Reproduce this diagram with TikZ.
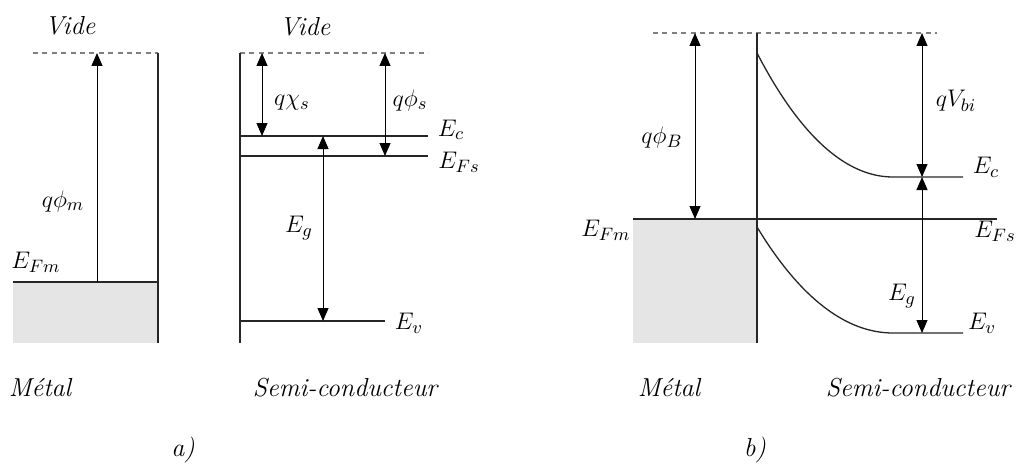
\documentclass[tikz,border=0pt]{standalone}
\usetikzlibrary{arrows.meta}
\begin{document}
\begin{tikzpicture}[x=0.5pt,y=-0.5pt,
  level/.style={line width=1pt, black!85},
  band/.style={line width=0.65pt, black!85},
  vac/.style={gray, line width=0.75pt, dash pattern=on 2.5pt off 2.2pt},
  darrow/.style={line width=0.5pt, {Triangle[length=6.5pt,width=5.5pt]}-{Triangle[length=6.5pt,width=5.5pt]}},
  uarrow/.style={line width=0.5pt, -{Triangle[length=6.5pt,width=5.5pt]}},
  lbl/.style={font=\fontsize{13}{15}\selectfont, inner sep=0pt},
  captxt/.style={font=\fontsize{13}{15}\selectfont\itshape, inner sep=0pt},
  metalfill/.style={fill=black!10}]
\useasboundingbox (0,0) rectangle (1016,465);

% ---------- panel a) : metal ----------
\fill[metalfill] (13,282) rectangle (158,343);
\coordinate (amV0) at (33,53);
\coordinate (amV1) at (158,53);
\coordinate (amB) at (158,343);
\coordinate (amF0) at (13,282);
\coordinate (amF1) at (158,282);
\coordinate (amA0) at (97,282);
\coordinate (amA1) at (97,53);
\draw[vac] (amV0) -- (amV1);
\draw[level] (amV1) -- (amB);
\draw[level] (amF0) -- (amF1);
\draw[uarrow] (amA0) -- (amA1);
\node[lbl] (vide1) at (70,26) {\itshape Vide};
\node[lbl] (qphim) at (63,201) {$q\phi_m$};
\node[lbl] (efm1) at (36,262) {$E_{Fm}$};

% ---------- panel a) : semiconductor ----------
\coordinate (asV0) at (240,53);
\coordinate (asV1) at (428,53);
\coordinate (asB) at (240,343);
\coordinate (asC0) at (240,136);
\coordinate (asC1) at (428,136);
\coordinate (asF0) at (240,156);
\coordinate (asF1) at (428,156);
\coordinate (asE0) at (240,321);
\coordinate (asE1) at (385,321);
\draw[vac] (asV0) -- (asV1);
\draw[level] (asV0) -- (asB);
\draw[level] (asC0) -- (asC1);
\draw[level] (asF0) -- (asF1);
\draw[level] (asE0) -- (asE1);
\coordinate (chiT) at (262,53);  \coordinate (chiB) at (262,136);
\coordinate (phT) at (385,53);   \coordinate (phB) at (385,156);
\coordinate (egT) at (323,136);  \coordinate (egB) at (323,321);
\draw[darrow] (chiT) -- (chiB);
\draw[darrow] (phT) -- (phB);
\draw[darrow] (egT) -- (egB);
\node[lbl] (vide2) at (305,27) {\itshape Vide};
\node[lbl] (qchi) at (292,103) {$q\chi_s$};
\node[lbl] (qphis) at (410,100) {$q\phi_s$};
\node[lbl] (ec1) at (451,130) {$E_c$};
\node[lbl] (efs1) at (459,162) {$E_{Fs}$};
\node[lbl] (eg1) at (299,228) {$E_g$};
\node[lbl] (ev1) at (409,323) {$E_v$};

% ---------- panel b) ----------
\fill[metalfill] (633,219) rectangle (757,343);
\coordinate (bV0) at (653,33);
\coordinate (bV1) at (937,33);
\coordinate (bIT) at (757,33);
\coordinate (bIB) at (757,343);
\coordinate (bF0) at (633,219);
\coordinate (bF1) at (997,219);
\coordinate (bC0) at (757,53);
\coordinate (bC1) at (893,177);
\coordinate (bC2) at (963,177);
\coordinate (bE0) at (757,227);
\coordinate (bE1) at (893,333);
\coordinate (bE2) at (963,333);
\draw[vac] (bV0) -- (bV1);
\draw[level] (bIT) -- (bIB);
\draw[level] (bF0) -- (bF1);
\draw[band] (bC0) .. controls (800,136) and (846,177) .. (bC1) -- (bC2);
\draw[band] (bE0) .. controls (800,298) and (846,333) .. (bE1) -- (bE2);
\coordinate (phBT) at (695,33);  \coordinate (phBB) at (695,219);
\coordinate (vbT) at (922,33);   \coordinate (vbB) at (922,177);
\coordinate (egbB) at (922,333);
\draw[darrow] (phBT) -- (phBB);
\draw[darrow] (vbT) -- (vbB);
\draw[darrow] (vbB) -- (egbB);
\node[lbl] (qphiB) at (662,137) {$q\phi_B$};
\node[lbl] (qvbi) at (956,101) {$qV_{bi}$};
\node[lbl] (ec2) at (986,167) {$E_c$};
\node[lbl] (eg2) at (902,296) {$E_g$};
\node[lbl] (ev2) at (982,323) {$E_v$};
\node[lbl] (efm2) at (606,230) {$E_{Fm}$};
\node[lbl] (efs2) at (995,231) {$E_{Fs}$};

% ---------- captions ----------
\node[captxt] (met1) at (40,388) {Métal};
\node[captxt] (sc1) at (345,388) {Semi-conducteur};
\node[captxt] (cap1) at (183,450) {a)};
\node[captxt] (met2) at (669,388) {Métal};
\node[captxt] (sc2) at (918,388) {Semi-conducteur};
\node[captxt] (cap2) at (755,450) {b)};
\end{tikzpicture}
\end{document}
